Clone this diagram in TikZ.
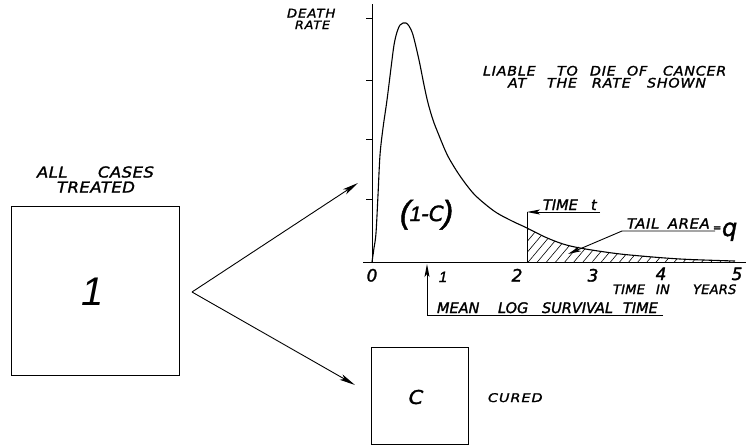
\documentclass[tikz,border=0pt]{standalone}
\usepackage{fontspec}
\setmainfont{Liberation Sans}
\newfontfamily\dv{DejaVu Sans}[ItalicFont={DejaVu Sans Oblique},ItalicFeatures={FakeBold=1.6}]
\newfontfamily\lb{Liberation Sans}[ItalicFeatures={FakeBold=1.5}]
\usetikzlibrary{arrows.meta,patterns.meta}
\newcommand\hf[3][1]{\fontsize{#2}{#2}\selectfont\dv\itshape\addfontfeature{LetterSpace=#3,FakeStretch=#1}}
\newcommand\hl[1]{\fontsize{#1}{#1}\selectfont\rmfamily\itshape}
\newcommand\hlb[1]{\fontsize{#1}{#1}\selectfont\lb\itshape}
\newcommand\wbox[2]{\makebox[#1][l]{#2}}
\tikzset{
  hand/.style={inner sep=0pt, outer sep=0pt, anchor=base west},
  handc/.style={inner sep=0pt, outer sep=0pt, anchor=base},
  ln/.style={line width=0.9pt},
  arr/.style={-{Stealth[length=16pt,width=6pt,inset=4pt]}},
  sarr/.style={-{Stealth[length=13pt,width=5pt,inset=3pt]}},
  sqbox/.style={draw, line width=1pt, minimum width=#1, minimum height=#1, inner sep=0pt},
  curve/.style={line width=1.1pt},
}
\begin{document}
\begin{tikzpicture}[x=1pt,y=-1pt]
\useasboundingbox (0,0) rectangle (746,445);
\def\curvepts{(372,262) (374,248) (376,233) (378,195) (380,155) (383,128) (387,100) (391,68) (394,45) (397,32) (400,25) (403,23) (406,23) (409,26) (413,35) (419,60) (424,85) (428,103) (433,120) (438,133) (445,150) (450,160) (460,176) (473,193) (485,204) (497,213) (512,221) (527,228) (545,237) (563,244) (580,248) (605,252) (630,255) (680,259) (735,261)}

% boxes
\node[sqbox=168.5pt] (all) at (95.5,291) {};
\node (one) at (93,292) {\hl{40}1};
\node[sqbox=97pt] (cured) at (419.5,396) {};
\node (cc) at (416,397) {\hf[1.1]{19}{0}C};
\node[hand] (curedlbl) at (488,402) {\hf[1.2]{12}{8}CURED};
\node[hand] (allc) at (37,177.5) {\hf[1.1]{15}{3}\wbox{61pt}{ALL}CASES};
\node[hand] (treated) at (57,192.5) {\hf[1.1]{15}{3}TREATED};

% split arrows
\coordinate (split) at (192,292);
\coordinate (tipA) at (358,183);
\coordinate (tipB) at (355,385);
\draw[ln,arr] (split) -- (tipA);
\draw[ln,arr] (split) -- (tipB);

% axes
\coordinate (ybot) at (372,263);
\coordinate (ytop) at (372,4);
\coordinate (xl) at (363,262);
\coordinate (xr) at (746,262);
\draw[ln] (ybot) -- (ytop);
\draw[ln] (xl) -- (xr);
\foreach \y in {18,80,139,199} \draw[ln] (366,\y) -- (372,\y);

% hatched tail
\begin{scope}
\clip (527,150) rectangle (735,262);
\fill[pattern={Lines[angle=50,distance=7pt,line width=0.6pt]}] plot[smooth,tension=0.55] coordinates {\curvepts} -- (735,262) -- (372,262) -- cycle;
\end{scope}

% curve
\draw[curve] plot[smooth,tension=0.55] coordinates {\curvepts};

% time t
\coordinate (tb) at (527,262);
\coordinate (tc) at (527,212);
\coordinate (tu) at (600,212);
\draw[ln] (tb) -- (tc);
\draw[ln,sarr] (tu) -- (tc);
\node[hand] (timet) at (543,210) {\hf{14.5}{0}\wbox{48pt}{TIME}t};

% tail area
\coordinate (ta1) at (715,231);
\coordinate (ta2) at (622,231);
\coordinate (ta3) at (568,254);
\draw[ln,sarr] (ta1) -- (ta2) -- (ta3);
\node[hand] (tail) at (627,228.5) {\hf[1.05]{14}{5}\wbox{41pt}{TAIL}AREA};
\node[hand] (eq) at (713,231) {\hf{10}{0}=};
\node[hand] (q) at (722,236) {\hf{24}{0}q};

% mean log survival time
\coordinate (m1) at (663,315);
\coordinate (m2) at (427,315);
\coordinate (m3) at (427,264);
\draw[ln,sarr] (m1) -- (m2) -- (m3);
\node[hand] (mean) at (437,313) {\hf{14.5}{0}\wbox{61pt}{MEAN}\wbox{44pt}{LOG}\wbox{81pt}{SURVIVAL}TIME};

% axis numbers
\node[handc] (n0) at (372,281.5) {\hf{17}{0}0};
\node[handc] (n1) at (443,282) {\hlb{15}1};
\node[handc] (n2) at (517,281.5) {\hf{17}{0}2};
\node[handc] (n3) at (593,281.5) {\hf{17}{0}3};
\node[handc] (n4) at (661,280) {\hf{17}{0}4};
\node[handc] (n5) at (737,280) {\hf{17}{0}5};
\node[hand] (years) at (613,294) {\hf{13}{2}\wbox{43pt}{TIME}\wbox{37pt}{IN}YEARS};

% (1-C)
\node[hand] (onec) at (400,221) {\raisebox{-2pt}{\hlb{32}(}\kern-1pt{\hlb{21}1}{\hf{21}{0}-C}\kern-1pt\raisebox{-2pt}{\hlb{32})}};

% labels
\node[hand] (death) at (287,17.5) {\hf[1.1]{12}{8}DEATH};
\node[hand] (rate) at (295,29) {\hf[1.1]{11.5}{8}RATE};
\node[hand] (liab1) at (483,75.5) {\hf[1.1]{13}{6}\wbox{74pt}{LIABLE}\wbox{33pt}{TO}\wbox{37pt}{DIE}\wbox{36pt}{OF}CANCER};
\node[hand] (liab2) at (508,87.5) {\hf[1.1]{13}{6}\wbox{39pt}{AT}\wbox{45pt}{THE}\wbox{55pt}{RATE}SHOWN};
\end{tikzpicture}
\end{document}
